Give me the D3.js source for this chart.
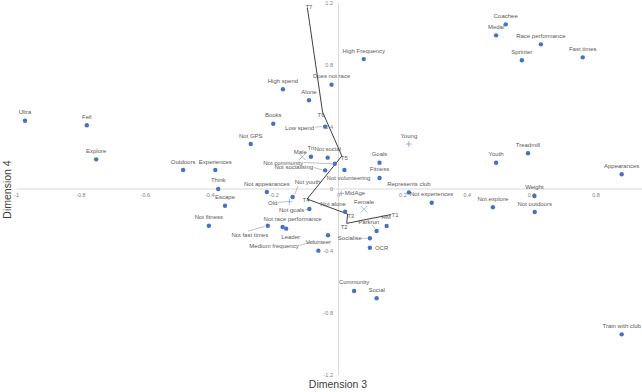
<!DOCTYPE html>
<html>
<head>
<meta charset="utf-8">
<script src="https://cdn.jsdelivr.net/npm/d3@7"></script>
<style>
  body { margin: 0; background: #fff; }
  svg { display: block; font-family: "Liberation Sans", Arial, sans-serif; }
</style>
</head>
<body>
<svg id="chart" width="642" height="392"></svg>
<script>
// ---------------- DATA ----------------
const pointNames = ["Ultra","Fell","Explore","Outdoors","Experiences","Think","Escape","Not fitness",
  "Not appearances","Not fast times","Not race performance","Leader","Not youth","Not goals",
  "Medium frequency","Volunteer","Not alone","Community","Social","Socialise","OCR","Parkrun","HM",
  "Represents club","Not experiences","Not explore","Weight","Not outdoors","Train with club",
  "Appearances","Youth","Treadmill","Fast times","Sprinter","Race performance","Medal","Coachee",
  "High Frequency","Does not race","High spend","Alone","Books","Low spend","Not GPS","Goals",
  "Fitness","Tri","Not social","Not community","Not socialising","Not volunteering"];
const pointDim3 = [-0.972,-0.780,-0.751,-0.481,-0.381,-0.372,-0.351,-0.401,
  -0.221,-0.218,-0.172,-0.161,-0.141,-0.089,
  -0.031,-0.061,0.022,0.050,0.120,0.099,0.099,0.120,0.151,
  0.220,0.291,0.481,0.610,0.611,0.881,
  0.881,0.491,0.590,0.760,0.571,0.630,0.491,0.521,
  0.080,-0.020,-0.171,-0.090,-0.201,-0.040,-0.271,0.129,
  0.129,-0.084,-0.032,-0.010,-0.040,0.020];
const pointDim4 = [0.437,0.408,0.188,0.119,0.119,-0.003,-0.111,-0.240,
  -0.023,-0.240,-0.248,-0.259,-0.055,-0.132,
  -0.302,-0.401,-0.150,-0.661,-0.708,-0.321,-0.382,-0.274,-0.242,
  -0.025,-0.092,-0.121,-0.048,-0.152,-0.941,
  0.092,0.166,0.227,0.846,0.827,0.930,0.988,1.059,
  0.835,0.670,0.640,0.569,0.418,0.399,0.287,0.166,
  0.068,0.205,0.199,0.160,0.117,0.119];

const ageNames = ["Young","MidAge","Old"];
const ageDim3 = [0.220, 0.010, -0.151];
const ageDim4 = [0.287, -0.031, -0.085];

const genderNames = ["Male","Female"];
const genderDim3 = [-0.111, 0.081];
const genderDim4 = [0.205, -0.134];

const timeNames = ["T1","T2","T3","T4","T5","T6","T7"];
const timeDim3 = [0.165, 0.027, 0.030, -0.096, 0.012, -0.048, -0.095];
const timeDim4 = [-0.168, -0.225, -0.165, -0.068, 0.210, 0.494, 1.165];

const xTicks = [-1,-0.8,-0.6,-0.4,-0.2,0,0.2,0.4,0.6,0.8];
const yTicks = [-1.2,-0.8,-0.4,0,0.4,0.8,1.2];
const xTitle = "Dimension 3";
const yTitle = "Dimension 4";

// ---------------- LABEL LAYOUT (pixel offsets from marker) ----------------
const defaultLabel = {dx: 0, dy: -8.5, anchor: "middle"};
const labelLayout = {
  "Male": {dx: -2, dy: -4.5, anchor: "middle"},
  "Not community": {dx: -31.5, dy: -1, anchor: "end", leader: [[-30.7,-1.2],[-3,0]]},
  "Not socialising": {dx: -12, dy: -3, anchor: "end", leader: [[-11.5,-2.8],[-3,-0.5]]},
  "Not volunteering": {dx: 4, dy: 8, anchor: "middle"},
  "Not youth": {dx: 15, dy: -15, anchor: "middle", leader: [[5.3,-11],[2,-2.5]]},
  "Old": {dx: -12, dy: 1, anchor: "end", leader: [[-11.3,0.8],[-3,0]]},
  "Not goals": {dx: -5, dy: 1, anchor: "end", leader: [[-4.5,1],[-2.5,0.5]]},
  "Low spend": {dx: -11, dy: 1, anchor: "end", leader: [[-10.5,0.5],[-3,0]]},
  "Not alone": {dx: -12, dy: -7.7, anchor: "middle"},
  "MidAge": {dx: 3.5, dy: 0, anchor: "start"},
  "Female": {dx: 0, dy: -7, anchor: "middle"},
  "Parkrun": {dx: -8, dy: -8.7, anchor: "middle", leader: [[-4.7,-6],[-1.5,-2.5]]},
  "HM": {dx: -0.5, dy: -9.3, anchor: "middle"},
  "Socialise": {dx: -8, dy: 0, anchor: "end", leader: [[-7.2,0],[-3,0]]},
  "OCR": {dx: 5, dy: 0, anchor: "start"},
  "Leader": {dx: 4.5, dy: 8, anchor: "middle"},
  "Not race performance": {dx: 10, dy: -7.7, anchor: "middle"},
  "Not fast times": {dx: -18, dy: 9.3, anchor: "middle", leader: [[-19.7,5.3],[-3,0.8]]},
  "Medium frequency": {dx: -54, dy: 10.7, anchor: "middle", leader: [[-28.5,10.2],[-14.5,6.2]]},
  "T1": {dx: 4, dy: 0, anchor: "middle"},
  "T2": {dx: -2.5, dy: 4, anchor: "middle"},
  "T3": {dx: 3, dy: 1.7, anchor: "middle"},
  "T4": {dx: -1, dy: 0.5, anchor: "middle"},
  "T5": {dx: 2.5, dy: 2, anchor: "middle"},
  "T6": {dx: -1.5, dy: 3.5, anchor: "middle"},
  "T7": {dx: 1.5, dy: -1, anchor: "middle"}
};

// ---------------- CHART ----------------
const svg = d3.select("#chart");
svg.append("rect").attr("width", 642).attr("height", 392).attr("fill", "#fff");

const x = d3.scaleLinear().domain([-1, 1]).range([16, 660]);
const y = d3.scaleLinear().domain([-1.2, 1.2]).range([374.5, 2.5]);

const fmt = d => (Math.abs(d) < 1e-9 ? "0" : String(+d.toFixed(1)));

const axisColor = "#d9d9d9";
const tickColor = "#7f7f7f";

const gx = svg.append("g").attr("transform", `translate(0,${y(0)})`)
  .call(d3.axisBottom(x).tickValues(xTicks).tickFormat(fmt).tickSize(0).tickSizeOuter(0).tickPadding(5));
const gy = svg.append("g").attr("transform", `translate(${x(0)},0)`)
  .call(d3.axisLeft(y).tickValues(yTicks).tickFormat(fmt).tickSize(0).tickSizeOuter(0).tickPadding(5));
[gx, gy].forEach(g => {
  g.select(".domain").attr("stroke", axisColor).attr("stroke-width", 1);
  g.selectAll("text").attr("fill", tickColor).style("font-size", "5.5px")
    .style("font-family", "'Liberation Sans', Arial, sans-serif");
});

// axis titles
svg.append("text").attr("x", x(0)).attr("y", 388).attr("text-anchor", "middle")
  .attr("fill", "#404040").style("font-size", "10.5px").text(xTitle);
svg.append("text").attr("transform", `translate(11,${y(0) + 1}) rotate(-90)`)
  .attr("text-anchor", "middle").attr("fill", "#404040").style("font-size", "10.5px").text(yTitle);

// build records
const points = pointNames.map((n, i) => ({name: n, x: pointDim3[i], y: pointDim4[i]}));
const ages = ageNames.map((n, i) => ({name: n, x: ageDim3[i], y: ageDim4[i]}));
const genders = genderNames.map((n, i) => ({name: n, x: genderDim3[i], y: genderDim4[i]}));
const times = timeNames.map((n, i) => ({name: n, x: timeDim3[i], y: timeDim4[i]}));

// trajectory line
svg.append("path").datum(times)
  .attr("d", d3.line().x(d => x(d.x)).y(d => y(d.y)))
  .attr("fill", "none").attr("stroke", "#404040").attr("stroke-width", 1);

// leader lines
const all = points.concat(ages, genders, times);
const leaderG = svg.append("g");
all.forEach(d => {
  const L = labelLayout[d.name];
  if (L && L.leader) {
    leaderG.append("line")
      .attr("x1", x(d.x) + L.leader[0][0]).attr("y1", y(d.y) + L.leader[0][1])
      .attr("x2", x(d.x) + L.leader[1][0]).attr("y2", y(d.y) + L.leader[1][1])
      .attr("stroke", "#a6a6a6").attr("stroke-width", 0.7);
  }
});

// markers
svg.append("g").selectAll("circle").data(points).join("circle")
  .attr("cx", d => x(d.x)).attr("cy", d => y(d.y)).attr("r", 2.2).attr("fill", "#4472C4");

svg.append("g").selectAll("path").data(ages).join("path")
  .attr("transform", d => `translate(${x(d.x)},${y(d.y)})`)
  .attr("d", "M-2.8,0H2.8M0,-2.8V2.8")
  .attr("stroke", "#8EA9DB").attr("stroke-width", 0.9).attr("fill", "none");

svg.append("g").selectAll("path").data(genders).join("path")
  .attr("transform", d => `translate(${x(d.x)},${y(d.y)})`)
  .attr("d", "M-3.3,-3.3L3.3,3.3M-3.3,3.3L3.3,-3.3")
  .attr("stroke", "#8EA9DB").attr("stroke-width", 0.8).attr("fill", "none");

// labels
svg.append("g").selectAll("text").data(all).join("text")
  .attr("x", d => x(d.x) + (labelLayout[d.name] || defaultLabel).dx)
  .attr("y", d => y(d.y) + (labelLayout[d.name] || defaultLabel).dy)
  .attr("text-anchor", d => (labelLayout[d.name] || defaultLabel).anchor)
  .attr("dominant-baseline", "central")
  .attr("fill", "#595959")
  .style("font-size", "6px")
  .text(d => d.name);
</script>
</body>
</html>
